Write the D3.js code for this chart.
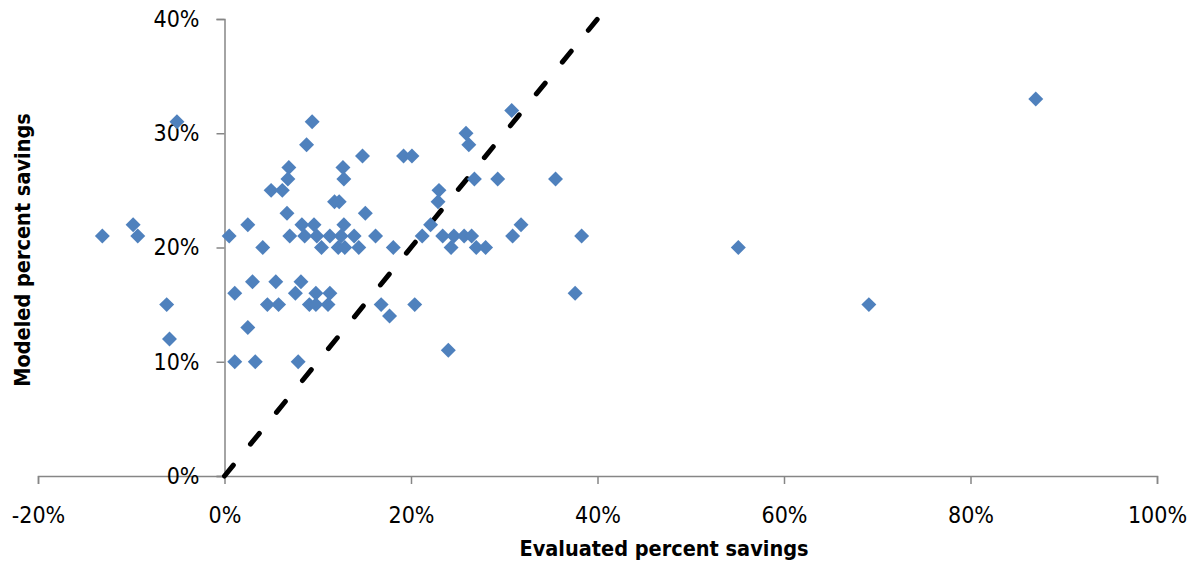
<!DOCTYPE html>
<html>
<head>
<meta charset="utf-8">
<script src="https://cdn.jsdelivr.net/npm/d3@7"></script>
<style>
  body { margin: 0; background: #fff; }
  #plot text { font-family: "Liberation Sans Narrow", "DejaVu Sans Condensed", "Liberation Sans", sans-serif; }
</style>
</head>
<body>
<div id="plot"></div>
<script>
// evaluated vs modeled percent savings, one entry per project
const evaluated = [
  -0.131, -0.098, -0.093, -0.051, -0.062, -0.059,
  0.005, 0.025, 0.041, 0.094, 0.088, 0.069, 0.068, 0.050, 0.062, 0.067,
  0.083, 0.096, 0.070, 0.086, 0.099, 0.104, 0.113, 0.127, 0.128, 0.148,
  0.118, 0.123, 0.128, 0.125, 0.122, 0.129, 0.139, 0.144, 0.151, 0.162,
  0.181, 0.192, 0.201,
  0.011, 0.030, 0.055, 0.082, 0.076, 0.046, 0.058, 0.098, 0.113, 0.091,
  0.098, 0.111, 0.025, 0.011, 0.033, 0.079, 0.168, 0.177, 0.204, 0.240, 0.376,
  0.308, 0.259, 0.262, 0.268, 0.293, 0.355, 0.230, 0.229, 0.221, 0.318,
  0.212, 0.234, 0.246, 0.257, 0.265, 0.309, 0.383, 0.243, 0.270, 0.280,
  0.551, 0.691, 0.870
];
const modeled = [
  0.21, 0.22, 0.21, 0.31, 0.15, 0.12,
  0.21, 0.22, 0.20, 0.31, 0.29, 0.27, 0.26, 0.25, 0.25, 0.23,
  0.22, 0.22, 0.21, 0.21, 0.21, 0.20, 0.21, 0.27, 0.26, 0.28,
  0.24, 0.24, 0.22, 0.21, 0.20, 0.20, 0.21, 0.20, 0.23, 0.21,
  0.20, 0.28, 0.28,
  0.16, 0.17, 0.17, 0.17, 0.16, 0.15, 0.15, 0.16, 0.16, 0.15,
  0.15, 0.15, 0.13, 0.10, 0.10, 0.10, 0.15, 0.14, 0.15, 0.11, 0.16,
  0.32, 0.30, 0.29, 0.26, 0.26, 0.26, 0.25, 0.24, 0.22, 0.22,
  0.21, 0.21, 0.21, 0.21, 0.21, 0.21, 0.21, 0.20, 0.20, 0.20,
  0.20, 0.15, 0.33
];
const xTicks = [-0.2, 0, 0.2, 0.4, 0.6, 0.8, 1.0];
const yTicks = [0, 0.1, 0.2, 0.3, 0.4];
const refLine = [0, 0.4]; // 1:1 line

const width = 1195, height = 563;
const svg = d3.select("#plot").append("svg")
  .attr("width", width)
  .attr("height", height);

const x = d3.scaleLinear().domain([-0.2, 1.0]).range([38, 1157]);
const y = d3.scaleLinear().domain([0, 0.4]).range([476, 19]);
const pct = d3.formatLocale({ decimal: ".", thousands: ",", grouping: [3], currency: ["", ""], minus: "-" }).format(".0%");
const axisColor = "#868686";

// x axis sits at y = 0
const gx = svg.append("g")
  .attr("transform", "translate(0," + y(0) + ")")
  .call(d3.axisBottom(x).tickValues(xTicks).tickFormat(pct).tickSize(8).tickPadding(23));

// y axis sits at x = 0
const gy = svg.append("g")
  .attr("transform", "translate(" + x(0) + ",0)")
  .call(d3.axisLeft(y).tickValues(yTicks).tickFormat(pct).tickSize(8).tickPadding(17));

[gx, gy].forEach(g => {
  g.selectAll("path, line").attr("stroke", axisColor).attr("stroke-width", 1.5);
  g.selectAll("text").attr("fill", "#000").style("font-size", "23px");
});

// dashed 1:1 reference line
svg.append("path")
  .datum(refLine)
  .attr("d", d3.line().x(d => x(d)).y(d => y(d)))
  .attr("fill", "none")
  .attr("stroke", "#000")
  .attr("stroke-width", 5)
  .attr("stroke-linecap", "round")
  .attr("stroke-dasharray", "14,27.1");

// diamonds
const diamond = d3.symbol().type(d3.symbolSquare).size(112);
svg.append("g").selectAll("path")
  .data(evaluated.map((v, i) => [v, modeled[i]]))
  .enter().append("path")
  .attr("d", diamond)
  .attr("transform", d => "translate(" + x(d[0]) + "," + y(d[1]) + ") rotate(45)")
  .attr("fill", "#4F81BD");

// axis titles
svg.append("text")
  .attr("x", 664)
  .attr("y", 556)
  .attr("text-anchor", "middle")
  .style("font-size", "21.5px")
  .style("font-weight", "bold")
  .text("Evaluated percent savings");

svg.append("text")
  .attr("transform", "translate(30,250) rotate(-90)")
  .attr("text-anchor", "middle")
  .style("font-size", "21.5px")
  .style("font-weight", "bold")
  .text("Modeled percent savings");
</script>
</body>
</html>
